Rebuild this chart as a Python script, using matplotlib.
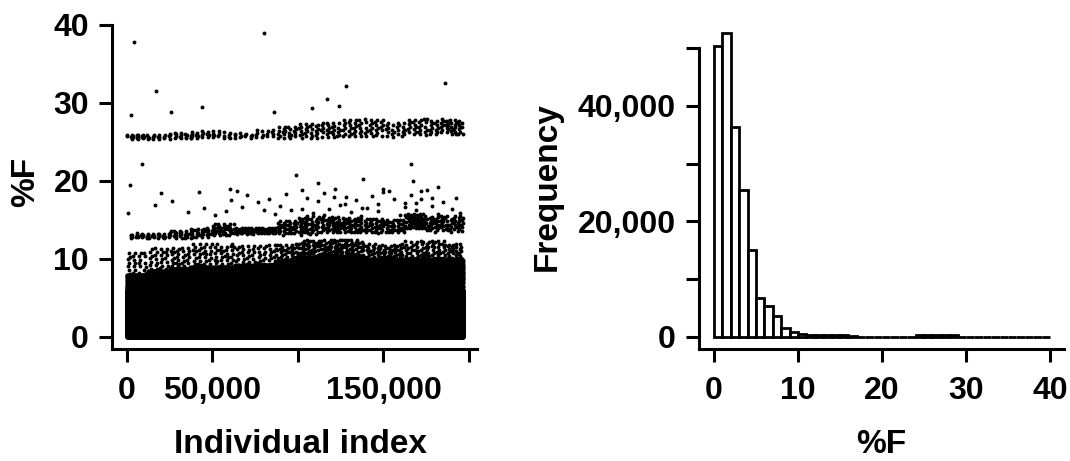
import numpy as np
import matplotlib
matplotlib.use("Agg")
import matplotlib.pyplot as plt

plt.rcParams['font.family'] = ['Liberation Sans', 'DejaVu Sans']
plt.rcParams['font.weight'] = 'bold'

# ---- histogram of %F (right panel), bins of width 1 from 0 to 40
bin_left = np.arange(0, 40)
bin_counts = [50300, 52600, 36400, 25500, 15000, 6700, 5300, 3600, 1550, 860,
              450, 420, 400, 420, 430, 380, 120, 60, 40, 30,
              20, 20, 30, 60, 350, 420, 430, 380, 300, 60,
              20, 15, 10, 10, 5, 5, 5, 3, 2, 2]

# ---- scatter (left panel): counts read per index segment and %F band
seg_edges = [0, 12500, 25000, 37500, 50000, 62500, 75000, 87500, 100000,
             112500, 125000, 137500, 150000, 162500, 175000, 187500, 196500]

# solid block 0-6 %F
low_counts = [11900] * 15 + [8000]
# from 6 %F up to the top of the dense mass
main_top = [8.0, 8.5, 8.8, 9.0, 9.0, 9.2, 9.3, 9.8,
            10.3, 10.5, 10.4, 10.0, 10.0, 10.0, 10.0, 10.0]
main_counts = [900, 1000, 1050, 1100, 1100, 1100, 1150, 1200,
               1300, 1300, 1300, 1250, 1250, 1250, 1250, 900]
# speckle above the dense mass
fuzz_top = [11.0, 11.5, 11.5, 12.0, 12.0, 12.0, 12.0, 12.0,
            12.5, 12.5, 12.5, 12.0, 12.0, 12.5, 12.5, 12.0]
fuzz_counts = [26, 28, 30, 32, 32, 28, 28, 34, 38, 38, 38, 34, 34, 34, 34, 26]
# middle band
mid_center = [13.0, 13.0, 13.2, 13.4, 13.8, 13.6, 13.6, 14.0,
              14.3, 14.5, 14.4, 14.3, 14.2, 14.8, 14.5, 14.5]
mid_half = [0.3, 0.3, 0.5, 0.6, 0.8, 0.4, 0.4, 0.9,
            1.2, 1.1, 1.0, 1.0, 0.9, 1.0, 1.0, 1.0]
mid_counts = [20, 20, 25, 28, 34, 38, 38, 36, 42, 42, 40, 36, 36, 48, 40, 30]
# sparse points above the middle band
upper_counts = [1, 2, 2, 2, 3, 3, 4, 3, 5, 5, 6, 5, 4, 6, 5, 3]
# high band
high_center = [25.7, 25.7, 25.8, 25.9, 25.9, 25.8, 26.0, 26.3,
               26.5, 26.6, 26.8, 26.8, 26.5, 26.8, 27.0, 27.0]
high_half = [0.3, 0.3, 0.4, 0.5, 0.5, 0.3, 0.5, 0.8,
             1.0, 1.0, 1.2, 1.2, 1.0, 1.1, 1.0, 1.0]
high_counts = [20, 14, 16, 16, 14, 12, 14, 22, 26, 26, 28, 26, 22, 26, 28, 26]

# single outliers
out_idx = [4000, 80000, 9000, 1500, 17000, 128000, 186000, 117000, 108000,
           2500, 26000, 44000, 60000, 99000, 112000, 150000, 166000, 182000,
           86000, 124000, 138000, 167000]
out_pct = [37.8, 39.0, 22.2, 19.5, 31.6, 32.2, 32.5, 30.5, 29.3,
           28.5, 28.8, 29.5, 19.0, 20.8, 19.8, 19.0, 22.2, 19.2,
           28.9, 29.6, 20.3, 20.0]


def spread(n, x0, x1, y0, y1, offset):
    # spread n points evenly over a rectangle
    k = np.arange(n) + offset
    u = (0.5 + k * 0.7548776662466927) % 1
    v = (0.5 + k * 0.5698402909980532) % 1
    return x0 + u * (x1 - x0), y0 + v * (y1 - y0)


xs = []
ys = []
for i in range(len(seg_edges) - 1):
    a, b = seg_edges[i], seg_edges[i + 1]
    cells = [
        (low_counts[i], 0.0, 6.0),
        (main_counts[i], 6.0, main_top[i]),
        (fuzz_counts[i], main_top[i], fuzz_top[i]),
        (mid_counts[i], mid_center[i] - mid_half[i], mid_center[i] + mid_half[i]),
        (upper_counts[i], 15.5, 19.0),
        (high_counts[i], high_center[i] - high_half[i], high_center[i] + high_half[i]),
    ]
    for j, (n, y0, y1) in enumerate(cells):
        x, y = spread(n, a + 1, b, y0, y1, 977 * i + 131 * j)
        xs.append(x)
        ys.append(y)
xs.append(np.array(out_idx, float))
ys.append(np.array(out_pct, float))
xs = np.concatenate(xs)
ys = np.concatenate(ys)

fig = plt.figure(figsize=(10.7, 4.61), dpi=100)
ax1 = fig.add_axes([112/1070, 112/461, 365/1070, 329/461])
ax2 = fig.add_axes([699/1070, 112/461, 365/1070, 329/461])

ax1.plot(xs, ys, 'o', ms=2.8, mew=0, color='black')
ax1.set_xlim(-8772, 204700)
ax1.set_ylim(-1.54, 40.64)
ax1.set_xticks([0, 50000, 100000, 150000, 200000])
ax1.set_xticklabels(['0', '50,000', '', '150,000', ''])
ax1.set_yticks([0, 10, 20, 30, 40])
ax1.spines['left'].set_bounds(-1.54, 40)

ax2.bar(bin_left, bin_counts, width=1, align='edge', color='white',
        edgecolor='black', linewidth=2.0)
ax2.set_xlim(-1.786, 41.67)
ax2.set_ylim(-2076, 54840)
ax2.set_xticks([0, 10, 20, 30, 40])
ax2.set_yticks([0, 10000, 20000, 30000, 40000, 50000])
ax2.set_yticklabels(['0', '', '20,000', '', '40,000', ''])
ax2.spines['left'].set_bounds(-2076, 50000)

for ax in (ax1, ax2):
    for s in ('top', 'right'):
        ax.spines[s].set_visible(False)
    for s in ('left', 'bottom'):
        ax.spines[s].set_linewidth(2.2)
    ax.tick_params(direction='out', length=9.5, width=2.2, labelsize=23)
    ax.tick_params(axis='x', pad=10)
    ax.tick_params(axis='y', pad=7)
    for lab in ax.get_xticklabels() + ax.get_yticklabels():
        lab.set_fontweight('bold')

fig.text(300/1070, 1 - 444/461, 'Individual index', ha='center', va='center',
         fontsize=24, fontweight='bold')
fig.text(26/1070, 1 - 182/461, '%F', ha='center', va='center', rotation=90,
         fontsize=24, fontweight='bold')
fig.text(881/1070, 1 - 444/461, '%F', ha='center', va='center',
         fontsize=24, fontweight='bold')
fig.text(547/1070, 1 - 187/461, 'Frequency', ha='center', va='center',
         rotation=90, fontsize=24, fontweight='bold')

fig.savefig('out.png', dpi=100)
